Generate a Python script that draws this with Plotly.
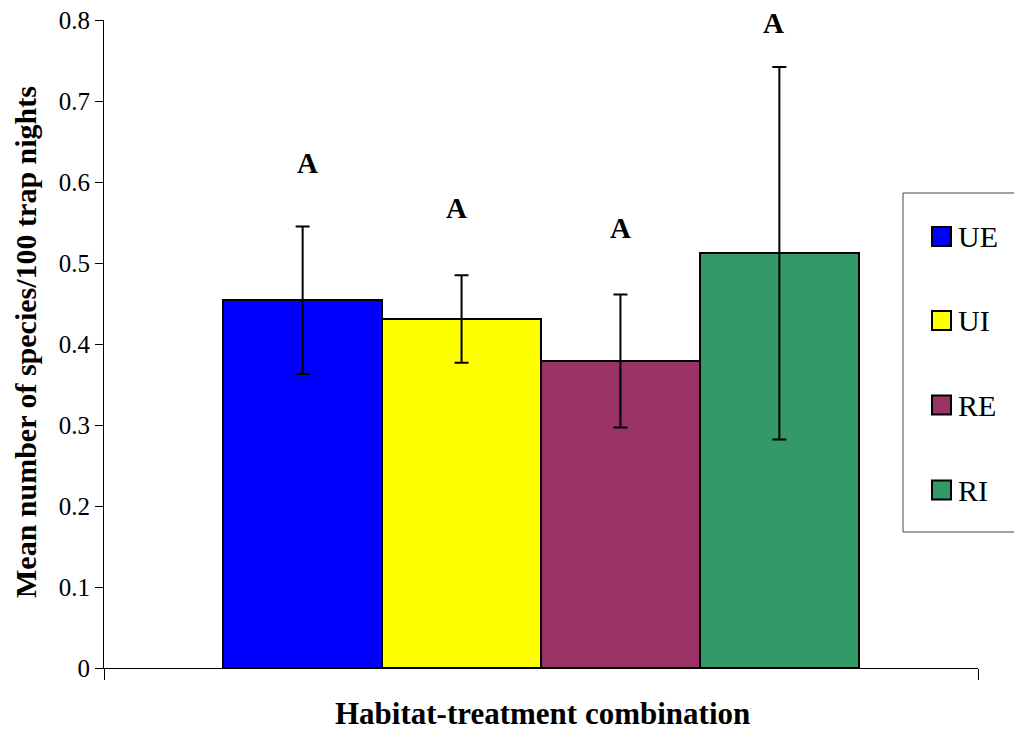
import plotly.graph_objects as go

# Habitat-treatment combinations and their means with standard errors
groups = ["UE", "UI", "RE", "RI"]
means = [0.454, 0.431, 0.379, 0.512]
errors = [0.091, 0.054, 0.082, 0.230]
letters = ["A", "A", "A", "A"]
letter_y = [0.623, 0.568, 0.543, 0.796]
letter_dx = [0.03, -0.03, 0.0, -0.04]
colors = ["#0000FF", "#FFFF00", "#993366", "#339966"]

x_title = "Habitat-treatment combination"
y_title = "Mean number of species/100 trap nights"

W, H = 1014, 732
ML, MR, MT, MB = 104, 36, 20, 64
PW, PH = W - ML - MR, H - MT - MB

serif = "Liberation Serif"


def px_x(px):
    return (px - ML) / PW


def px_y(py):
    return (H - MB - py) / PH


xs = list(range(len(groups)))

fig = go.Figure()
fig.add_trace(go.Bar(
    x=xs,
    y=means,
    width=1.0,
    marker=dict(color=colors, line=dict(color="black", width=2)),
    error_y=dict(type="data", array=errors, visible=True,
                 color="black", thickness=2, width=7),
    showlegend=False,
))

annotations = []
for i, (t, ly) in enumerate(zip(letters, letter_y)):
    annotations.append(dict(
        x=xs[i] + letter_dx[i], y=ly, xref="x", yref="y", text="<b>" + t + "</b>",
        showarrow=False, font=dict(family=serif, size=29, color="black"),
        xanchor="center", yanchor="middle",
    ))

# Axis titles
annotations.append(dict(
    x=px_x(542), y=px_y(713), xref="paper", yref="paper",
    text="<b>" + x_title + "</b>", showarrow=False,
    xanchor="center", yanchor="middle",
    font=dict(family=serif, size=31, color="black"),
))
annotations.append(dict(
    x=px_x(25), y=px_y(342), xref="paper", yref="paper",
    text="<b>" + y_title + "</b>", showarrow=False, textangle=-90,
    xanchor="center", yanchor="middle",
    font=dict(family=serif, size=30, color="black"),
))

# Legend drawn as a framed key on the right
shapes = [dict(
    type="rect", xref="paper", yref="paper",
    x0=px_x(903), x1=px_x(1030), y0=px_y(532), y1=px_y(193),
    line=dict(color="#444444", width=1), fillcolor="white", layer="below",
)]
legend_centers = [236.5, 320.5, 405, 490]
for g, c, cy in zip(groups, colors, legend_centers):
    shapes.append(dict(
        type="rect", xref="paper", yref="paper",
        x0=px_x(932), x1=px_x(951), y0=px_y(cy + 9.5), y1=px_y(cy - 9.5),
        line=dict(color="black", width=2), fillcolor=c,
    ))
    annotations.append(dict(
        x=px_x(956), y=px_y(cy), xref="paper", yref="paper", text=g,
        showarrow=False, xanchor="left", yanchor="middle",
        font=dict(family=serif, size=30, color="black"),
    ))

fig.update_layout(
    width=W, height=H,
    margin=dict(l=ML, r=MR, t=MT, b=MB),
    paper_bgcolor="white", plot_bgcolor="white",
    bargap=0,
    showlegend=False,
    shapes=shapes,
    annotations=annotations,
    xaxis=dict(
        range=[-1.25, 4.25], showgrid=False, zeroline=False,
        showline=True, linecolor="black", linewidth=1,
        tickmode="array", tickvals=[-1.25, 4.25], ticks="outside",
        ticklen=11, tickcolor="black", tickwidth=1, showticklabels=False,
        automargin=False,
    ),
    yaxis=dict(
        range=[0, 0.8], dtick=0.1, tick0=0, showgrid=False, zeroline=False,
        showline=True, linecolor="black", linewidth=1,
        ticks="outside", ticklen=8, tickcolor="black", tickwidth=1,
        tickfont=dict(family=serif, size=25, color="black"),
        automargin=False,
    ),
)

fig.write_html("out.html")
